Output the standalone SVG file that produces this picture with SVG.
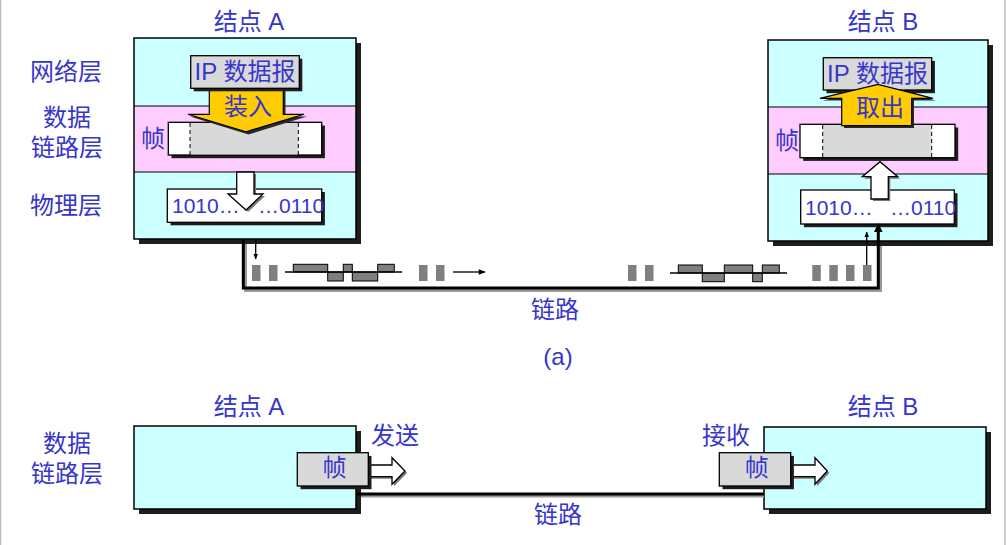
<svg xmlns="http://www.w3.org/2000/svg" width="1006" height="545" viewBox="0 0 1006 545">
<style>
.t{font-family:"Liberation Sans","Noto Sans CJK SC",sans-serif;font-size:24px;fill:#3636CC;text-anchor:middle}
.bits{font-family:"Liberation Sans","Noto Sans CJK SC",sans-serif;font-size:21px;fill:#3636CC}
.box{fill:#CCFFFF;stroke:#000;stroke-width:1.5}
.pink{fill:#FFCCFF}
.ln{stroke:#000;stroke-width:1.2}
.sh{fill:#1e1e1e}
.gbox{fill:#D9D9D9;stroke:#000;stroke-width:1.3}
.wbox{fill:#FFF;stroke:#000;stroke-width:1.3}
.dash{stroke:#000;stroke-width:1;stroke-dasharray:4,3}
.yel{fill:#FFCC00;stroke:#000;stroke-width:1.2}
.harrow{fill:#FFF;stroke:#000;stroke-width:1.3}
.blk{fill:#7F7F7F}
.wave{fill:#7F7F7F;stroke:#000;stroke-width:1}
.link{fill:none;stroke:#000;stroke-width:3}
.linksh{fill:none;stroke:#999;stroke-width:3}
.thin{stroke:#000;stroke-width:1.3;fill:none}
</style>
<defs>
<marker id="ah" viewBox="0 0 10 10" refX="9" refY="5" markerWidth="6" markerHeight="6" orient="auto" markerUnits="userSpaceOnUse">
<path d="M0,1 L10,5 L0,9 z" fill="#000"/>
</marker>
<marker id="ahs" viewBox="0 0 10 10" refX="9" refY="5" markerWidth="9" markerHeight="7" orient="auto" markerUnits="userSpaceOnUse">
<path d="M0,1 L10,5 L0,9 z" fill="#000"/>
</marker>
</defs>
<rect x="0" y="0" width="1006" height="545" fill="#FFF"/>
<line x1="0.5" y1="0" x2="0.5" y2="545" stroke="#BBB" stroke-width="1.5"/>
<line x1="1005" y1="0" x2="1005" y2="545" stroke="#BBB" stroke-width="1.5"/>

<g id="labels">
<text class="t" x="249" y="30">结点 A</text>
<text class="t" x="883" y="30">结点 B</text>
<text class="t" x="66" y="80">网络层</text>
<text class="t" x="67" y="126">数据</text>
<text class="t" x="67" y="156">链路层</text>
<text class="t" x="66" y="214">物理层</text>
<text class="t" x="555" y="318">链路</text>
<text class="t" x="558" y="365">(a)</text>
<text class="t" x="249" y="415">结点 A</text>
<text class="t" x="883" y="415">结点 B</text>
<text class="t" x="67" y="452">数据</text>
<text class="t" x="67" y="482">链路层</text>
<text class="t" x="395" y="444">发送</text>
<text class="t" x="726" y="444">接收</text>
<text class="t" x="558" y="523">链路</text>
</g>

<g id="signal-left">
<rect class="blk" x="252" y="265" width="8.5" height="16"/>
<rect class="blk" x="269" y="265" width="8.5" height="16"/>
<rect class="wave" x="293.3" y="264.3" width="34.4" height="7.7"/>
<rect class="wave" x="327.7" y="272" width="15.6" height="9"/>
<rect class="wave" x="343.3" y="264.3" width="9" height="7.7"/>
<rect class="wave" x="352.3" y="272" width="25.4" height="9"/>
<rect class="wave" x="377.7" y="264.3" width="16.6" height="7.7"/>
<line class="thin" x1="285" y1="272" x2="402" y2="272"/>
<rect class="blk" x="419" y="265" width="8.5" height="16"/>
<rect class="blk" x="436" y="265" width="8.5" height="16"/>
</g>
<g id="signal-right">
<rect class="blk" x="628" y="265" width="8.5" height="16"/>
<rect class="blk" x="645" y="265" width="8.5" height="16"/>
<rect class="wave" x="678.3" y="265" width="24" height="8"/>
<rect class="wave" x="702.3" y="273" width="22" height="8.7"/>
<rect class="wave" x="724.3" y="265" width="28.4" height="8"/>
<rect class="wave" x="752.7" y="273" width="9.6" height="8.7"/>
<rect class="wave" x="762.3" y="265" width="17" height="8"/>
<line class="thin" x1="670" y1="273" x2="787" y2="273"/>
<rect class="blk" x="812.3" y="265" width="8.5" height="16"/>
<rect class="blk" x="829.3" y="265" width="8.5" height="16"/>
<rect class="blk" x="846" y="265" width="8.5" height="16"/>
<rect class="blk" x="863" y="265" width="8.5" height="16"/>
</g>

<g id="nodeA">
<rect class="sh" x="139" y="43" width="222" height="201"/>
<rect class="box" x="134" y="38" width="222" height="201"/>
<rect class="pink" x="135" y="106" width="220" height="66"/>
<line class="ln" x1="134" y1="106" x2="356" y2="106"/>
<line class="ln" x1="134" y1="172" x2="356" y2="172"/>
<text class="t" x="153" y="146.5">帧</text>
<rect class="sh" x="171.5" y="125.5" width="153.4" height="32.7"/>
<rect class="wbox" x="168.3" y="122.3" width="153.4" height="32.7"/>
<rect x="190" y="123" width="108.3" height="31.4" fill="#D9D9D9"/>
<line class="dash" x1="190" y1="123" x2="190" y2="155"/>
<line class="dash" x1="298.3" y1="123" x2="298.3" y2="155"/>
<rect class="sh" x="170.5" y="192" width="154.4" height="33.3"/>
<rect class="wbox" x="167.3" y="189" width="154.4" height="33.3"/>
<text class="bits" x="172" y="213.3">1010…</text>
<text class="bits" x="258" y="213.3">…0110</text>
<path d="M211.5,90 H285.5 V116.5 H307 L248.5,134.5 L190,116.5 H211.5 z" fill="#2a2a2a"/>
<path class="yel" d="M209.3,88 H283.3 V114.3 H304 L246,131.7 L188,114.3 H209.3 z"/>
<text class="t" x="248" y="114.5">装入</text>
<rect class="sh" x="193.7" y="58.7" width="108.6" height="32.6"/>
<rect class="gbox" x="190.7" y="55.7" width="108.6" height="32.6"/>
<text class="t" x="245" y="80">IP 数据报</text>
<path d="M238.7,174 H256 V196 H265 L248,212 L230,196 H238.7 z" fill="#777"/>
<path class="harrow" d="M236.7,172 H254 V194 H263 L246,210 L228,194 H236.7 z"/>
</g>

<g id="nodeB">
<rect class="sh" x="773" y="45" width="220" height="201"/>
<rect class="box" x="768" y="40" width="220" height="201"/>
<rect class="pink" x="769" y="107" width="218" height="67"/>
<line class="ln" x1="768" y1="107" x2="988" y2="107"/>
<line class="ln" x1="768" y1="174" x2="988" y2="174"/>
<text class="t" x="787" y="148.5">帧</text>
<rect class="sh" x="803.2" y="127.5" width="155" height="33.4"/>
<rect class="wbox" x="800" y="124.3" width="155" height="33.4"/>
<rect x="822.7" y="125" width="109" height="32" fill="#D9D9D9"/>
<line class="dash" x1="822.7" y1="125" x2="822.7" y2="157.7"/>
<line class="dash" x1="931.7" y1="125" x2="931.7" y2="157.7"/>
<rect class="sh" x="803.9" y="193.2" width="153.6" height="34"/>
<rect class="wbox" x="800.7" y="190" width="153.6" height="34"/>
<text class="bits" x="805" y="215">1010…</text>
<text class="bits" x="890" y="215">…0110</text>
<rect class="sh" x="826.5" y="60.9" width="108.4" height="32.3"/>
<rect class="gbox" x="823.3" y="57.7" width="108.4" height="32.3"/>
<text class="t" x="877.5" y="82">IP 数据报</text>
<path d="M844,128 V100.5 H823 L880.5,86.5 L936,100.5 H914 V128 z" fill="#2a2a2a"/>
<path class="yel" d="M841.7,125.7 V98.3 H820 L878,84.3 L933,98.3 H911.7 V125.7 z"/>
<text class="t" x="880" y="116">取出</text>
<path d="M873,201 V178.7 H864.3 L882,163.7 L899.7,178.7 H890.3 V201 z" fill="#777"/>
<path class="harrow" d="M871,199 V176.7 H862.3 L880,161.7 L897.7,176.7 H888.3 V199 z"/>
</g>

<g id="nodeA-b">
<rect class="sh" x="139" y="431" width="222" height="83"/>
<rect class="box" x="134" y="426" width="222" height="83"/>
<path d="M370,467 H394 V459.7 L407,473 L394,486.3 V478.7 H370 z" fill="#777"/>
<path class="harrow" d="M368,465 H392 V457.7 L405,471 L392,484.3 V476.7 H368 z"/>
<rect class="sh" x="300.5" y="455.9" width="71" height="33.3"/>
<rect class="gbox" x="297.3" y="452.7" width="71" height="33.3"/>
<text class="t" x="334.5" y="476">帧</text>
</g>

<g id="nodeB-b">
<rect class="sh" x="769" y="432" width="222" height="82"/>
<rect class="box" x="764" y="427" width="222" height="82"/>
<path d="M792.7,467 H817 V459.7 L829.3,473 L817,486.3 V478.7 H792.7 z" fill="#777"/>
<path class="harrow" d="M790.7,465 H815 V457.7 L827.3,471 L815,484.3 V476.7 H790.7 z"/>
<rect class="sh" x="722.5" y="455.9" width="71.4" height="33.3"/>
<rect class="gbox" x="719.3" y="452.7" width="71.4" height="33.3"/>
<text class="t" x="756.7" y="476">帧</text>
</g>

<g id="connectors">
<path class="linksh" d="M245.5,244 V290.5 H880.5 V246"/>
<path class="link" d="M243.3,240 V288 H878.3 V231"/>
<path d="M874,232 L878.3,223 L882.6,232 z" fill="#000"/>
<line class="thin" x1="255.7" y1="240" x2="255.7" y2="259" marker-end="url(#ah)"/>
<line class="thin" x1="866.7" y1="265" x2="866.7" y2="232" marker-end="url(#ah)"/>
<line class="thin" x1="453" y1="272" x2="485" y2="272" marker-end="url(#ahs)"/>
<line x1="361" y1="496" x2="764" y2="496" stroke="#999" stroke-width="3"/>
<line x1="356" y1="494" x2="764" y2="494" stroke="#000" stroke-width="3"/>
</g>
</svg>
